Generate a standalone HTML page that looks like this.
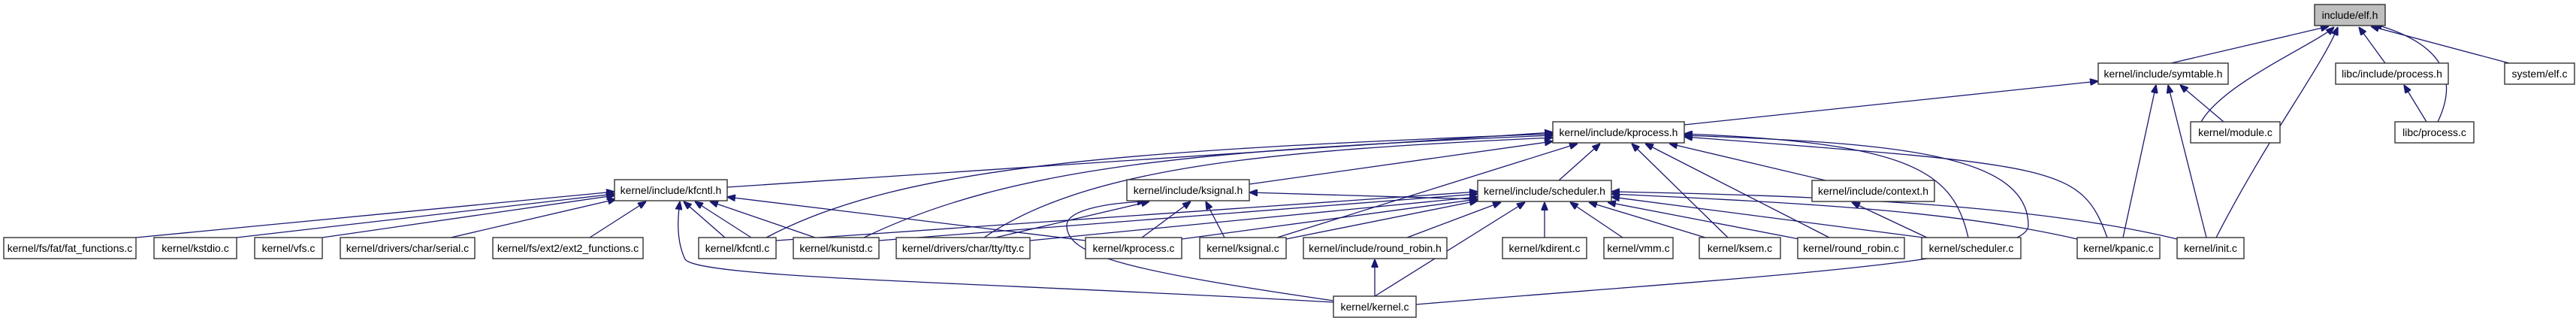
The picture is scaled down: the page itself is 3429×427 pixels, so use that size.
<!DOCTYPE html>
<html><head><meta charset="utf-8"><style>
html,body{margin:0;padding:0;background:#fff;}
svg{display:block;}
text{font-family:"Liberation Sans",sans-serif;font-size:14px;fill:#000;}
rect{fill:#fff;stroke:#333;stroke-width:1.4;}
path,line{stroke:#191970;stroke-width:1.3;fill:none;}
</style></head><body>
<svg width="3429" height="427" viewBox="0 0 3429 427" xmlns="http://www.w3.org/2000/svg">
<defs>
<marker id="a" viewBox="0 0 10 8" refX="10" refY="4" markerWidth="11" markerHeight="9" markerUnits="userSpaceOnUse" orient="auto">
<path d="M0,0 L10,4 L0,8 Z" style="fill:#191970;stroke:#191970"/>
</marker>
</defs>
<g marker-end="url(#a)">
<!-- elf.h -->
<line x1="2890" y1="84" x2="3100" y2="35"/>
<path d="M2930,162 C2960,110 3080,60 3107,36"/>
<path d="M2950,316 C3020,180 3090,90 3112,36"/>
<line x1="3175" y1="84" x2="3140" y2="36"/>
<path d="M3245,162 C3270,110 3260,60 3160,32"/>
<line x1="3340" y1="84" x2="3156" y2="35"/>
<!-- symtable.h -->
<line x1="2242" y1="166" x2="2793" y2="108"/>
<line x1="2960" y1="162" x2="2902" y2="113"/>
<line x1="2826" y1="316" x2="2870" y2="113"/>
<line x1="2937" y1="316" x2="2886" y2="113"/>
<line x1="3230" y1="162" x2="3200" y2="113"/>
<!-- kprocess.h -->
<line x1="968" y1="249" x2="2067" y2="176"/>
<path d="M1020,316 C1200,220 1500,200 2067,178"/>
<path d="M1150,316 C1350,220 1600,200 2067,180"/>
<path d="M1310,316 C1450,220 1700,200 2067,183"/>
<line x1="1663" y1="245" x2="2067" y2="188"/>
<line x1="1700" y1="316" x2="2100" y2="191"/>
<line x1="2075" y1="240" x2="2130" y2="191"/>
<line x1="2300" y1="316" x2="2172" y2="191"/>
<line x1="2435" y1="316" x2="2190" y2="191"/>
<line x1="2430" y1="240" x2="2222" y2="191"/>
<path d="M2620,316 C2600,230 2550,190 2242,178"/>
<path d="M1885,405 C2300,370 2700,350 2700,300 C2700,200 2500,190 2242,180"/>
<path d="M2805,316 C2770,220 2740,220 2242,182"/>
<!-- kfcntl.h -->
<line x1="181" y1="316" x2="818" y2="255"/>
<line x1="315" y1="316" x2="818" y2="258"/>
<line x1="429" y1="316" x2="818" y2="260"/>
<line x1="600" y1="316" x2="820" y2="265"/>
<line x1="785" y1="316" x2="860" y2="268"/>
<line x1="965" y1="316" x2="910" y2="268"/>
<line x1="1000" y1="316" x2="925" y2="268"/>
<line x1="1085" y1="316" x2="945" y2="268"/>
<line x1="1445" y1="320" x2="968" y2="262"/>
<path d="M1775,402 C1300,375 930,370 912,345 C900,320 902,290 905,268"/>
<!-- ksignal.h -->
<line x1="1520" y1="316" x2="1585" y2="268"/>
<line x1="1630" y1="316" x2="1605" y2="268"/>
<line x1="1325" y1="316" x2="1530" y2="268"/>
<path d="M1775,400 C1500,360 1420,340 1420,300 C1420,280 1470,270 1525,268"/>
<line x1="1967" y1="265" x2="1663" y2="256"/>
<!-- scheduler.h -->
<line x1="1033" y1="320" x2="1967" y2="255"/>
<line x1="1170" y1="320" x2="1967" y2="258"/>
<line x1="1371" y1="320" x2="1967" y2="262"/>
<line x1="1573" y1="318" x2="1967" y2="265"/>
<line x1="1712" y1="318" x2="1967" y2="267"/>
<line x1="1873" y1="316" x2="1998" y2="269"/>
<line x1="1830" y1="394" x2="2030" y2="269"/>
<line x1="2056" y1="316" x2="2056" y2="269"/>
<line x1="2160" y1="316" x2="2090" y2="269"/>
<line x1="2270" y1="316" x2="2115" y2="269"/>
<line x1="2395" y1="318" x2="2140" y2="269"/>
<line x1="2560" y1="316" x2="2145" y2="262"/>
<path d="M2765,318 C2600,280 2400,270 2145,258"/>
<path d="M2898,318 C2700,270 2400,260 2145,255"/>
<!-- context.h / round_robin.h -->
<line x1="2565" y1="316" x2="2465" y2="269"/>
<line x1="1830" y1="394" x2="1830" y2="345"/>
</g>
<!-- nodes -->
<rect x="3081" y="6" width="94" height="28" style="fill:#bfbfbf"/><text x="3128" y="25" text-anchor="middle">include/elf.h</text>
<rect x="2793" y="84" width="173" height="28"/><text x="2879.5" y="103" text-anchor="middle">kernel/include/symtable.h</text>
<rect x="3109" y="84" width="150" height="28"/><text x="3184" y="103" text-anchor="middle">libc/include/process.h</text>
<rect x="3334" y="84" width="93" height="28"/><text x="3380.5" y="103" text-anchor="middle">system/elf.c</text>
<rect x="2067" y="162" width="175" height="28"/><text x="2154.5" y="181" text-anchor="middle">kernel/include/kprocess.h</text>
<rect x="2916" y="162" width="119" height="28"/><text x="2975.5" y="181" text-anchor="middle">kernel/module.c</text>
<rect x="3188" y="162" width="105" height="28"/><text x="3240.5" y="181" text-anchor="middle">libc/process.c</text>
<rect x="818" y="239" width="150" height="28"/><text x="893" y="258" text-anchor="middle">kernel/include/kfcntl.h</text>
<rect x="1500" y="239" width="163" height="28"/><text x="1581.5" y="258" text-anchor="middle">kernel/include/ksignal.h</text>
<rect x="1967" y="240" width="178" height="28"/><text x="2056" y="259" text-anchor="middle">kernel/include/scheduler.h</text>
<rect x="2412" y="240" width="163" height="28"/><text x="2493.5" y="259" text-anchor="middle">kernel/include/context.h</text>
<rect x="5" y="316" width="176" height="28"/><text x="93" y="335" text-anchor="middle">kernel/fs/fat/fat_functions.c</text>
<rect x="205" y="316" width="110" height="28"/><text x="260" y="335" text-anchor="middle">kernel/kstdio.c</text>
<rect x="339" y="316" width="90" height="28"/><text x="384" y="335" text-anchor="middle">kernel/vfs.c</text>
<rect x="453" y="316" width="179" height="28"/><text x="542.5" y="335" text-anchor="middle">kernel/drivers/char/serial.c</text>
<rect x="656" y="316" width="200" height="28"/><text x="756" y="335" text-anchor="middle">kernel/fs/ext2/ext2_functions.c</text>
<rect x="930" y="316" width="103" height="28"/><text x="981.5" y="335" text-anchor="middle">kernel/kfcntl.c</text>
<rect x="1056" y="316" width="114" height="28"/><text x="1113" y="335" text-anchor="middle">kernel/kunistd.c</text>
<rect x="1193" y="316" width="178" height="28"/><text x="1282" y="335" text-anchor="middle">kernel/drivers/char/tty/tty.c</text>
<rect x="1445" y="316" width="128" height="28"/><text x="1509" y="335" text-anchor="middle">kernel/kprocess.c</text>
<rect x="1597" y="316" width="115" height="28"/><text x="1654.5" y="335" text-anchor="middle">kernel/ksignal.c</text>
<rect x="1735" y="316" width="191" height="28"/><text x="1830.5" y="335" text-anchor="middle">kernel/include/round_robin.h</text>
<rect x="2000" y="316" width="112" height="28"/><text x="2056" y="335" text-anchor="middle">kernel/kdirent.c</text>
<rect x="2135" y="316" width="92" height="28"/><text x="2181" y="335" text-anchor="middle">kernel/vmm.c</text>
<rect x="2262" y="316" width="108" height="28"/><text x="2316" y="335" text-anchor="middle">kernel/ksem.c</text>
<rect x="2393" y="316" width="142" height="28"/><text x="2464" y="335" text-anchor="middle">kernel/round_robin.c</text>
<rect x="2558" y="316" width="132" height="28"/><text x="2624" y="335" text-anchor="middle">kernel/scheduler.c</text>
<rect x="2765" y="316" width="110" height="28"/><text x="2820" y="335" text-anchor="middle">kernel/kpanic.c</text>
<rect x="2898" y="316" width="89" height="28"/><text x="2942.5" y="335" text-anchor="middle">kernel/init.c</text>
<rect x="1775" y="394" width="110" height="28"/><text x="1830" y="413" text-anchor="middle">kernel/kernel.c</text>
</svg>
</body></html>
